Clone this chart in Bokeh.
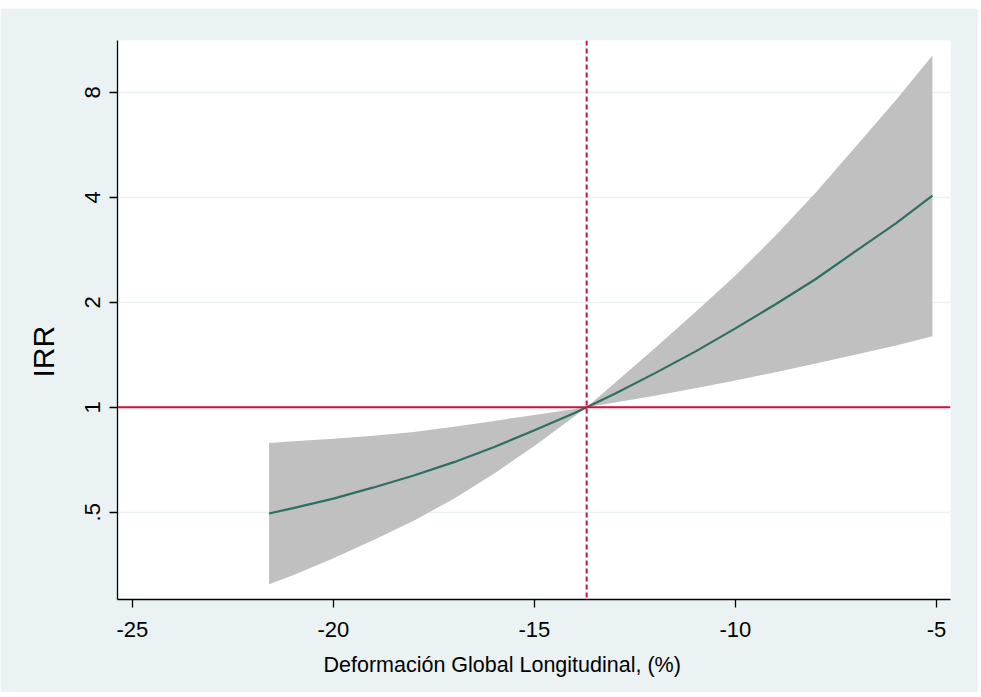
from bokeh.plotting import figure
from bokeh.models import FixedTicker, Span, Title
from bokeh.embed import file_html
from bokeh.resources import INLINE

# ---- data ----
gls = [-21.6, -21, -20, -19, -18, -17, -16, -15, -14, -13.7,
       -13, -12, -11, -10, -9, -8, -7, -6, -5.1]
irr = [0.496, 0.514, 0.547, 0.589, 0.637, 0.696, 0.769, 0.859, 0.963, 1.0,
       1.094, 1.253, 1.444, 1.684, 1.975, 2.333, 2.809, 3.375, 4.044]
ci_upper = [0.790, 0.799, 0.813, 0.829, 0.849, 0.879, 0.914, 0.951, 0.988, 1.0,
            1.174, 1.480, 1.874, 2.386, 3.108, 4.130, 5.603, 7.62, 10.21]
ci_lower = [0.311, 0.330, 0.369, 0.416, 0.473, 0.547, 0.646, 0.774, 0.943, 1.0,
            1.032, 1.079, 1.133, 1.193, 1.261, 1.336, 1.416, 1.505, 1.598]

ref_x = -13.7
ref_y = 1.0

x_ticks = [-25, -20, -15, -10, -5]
x_tick_labels = ["-25", "-20", "-15", "-10", "-5"]
y_ticks = [0.5, 1, 2, 4, 8]
y_tick_labels = [".5", "1", "2", "4", "8"]

x_title = "Deformación Global Longitudinal, (%)"
y_title = "IRR"

FONT = "Liberation Sans"
BG = "#EAF2F3"
RED = "#D0103F"

p = figure(width=978, height=684, output_backend="svg", toolbar_location=None,
           y_axis_type="log", x_range=(-25.37, -4.65), y_range=(0.281, 11.27),
           min_border_left=117, min_border_right=28, min_border_top=32, min_border_bottom=93,
           margin=(8, 3, 5, 0))
p.background_fill_color = "white"
p.border_fill_color = BG
p.outline_line_color = None

p.varea(x=gls, y1=ci_lower, y2=ci_upper, fill_color="#C0C0C0", fill_alpha=1.0)
p.add_layout(Span(location=ref_y, dimension="width", line_color=RED, line_width=2))
p.add_layout(Span(location=ref_x, dimension="height", line_color=RED, line_width=2,
                  line_dash="5 3"))
p.line(gls, irr, line_color="#2E6E63", line_width=2.2)

# axes
p.xaxis.ticker = FixedTicker(ticks=x_ticks)
p.xaxis.major_label_overrides = dict(zip(x_ticks, x_tick_labels))
p.yaxis.ticker = FixedTicker(ticks=y_ticks)
p.yaxis.major_label_overrides = dict(zip(y_ticks, y_tick_labels))
p.yaxis.major_label_orientation = "vertical"

for ax in (p.xaxis[0], p.yaxis[0]):
    ax.axis_line_color = "black"
    ax.axis_line_width = 1.3
    ax.major_tick_line_color = "black"
    ax.major_tick_line_width = 1.3
    ax.major_tick_out = 8
    ax.major_tick_in = 0
    ax.minor_tick_line_color = None
    ax.major_label_text_font = FONT
    ax.major_label_text_font_size = "22px"
    ax.major_label_text_color = "black"
p.xaxis.major_label_standoff = 14
p.yaxis.major_label_standoff = 9

p.xgrid.visible = False
p.ygrid.grid_line_color = BG
p.ygrid.grid_line_width = 1.5

# axis titles as side titles (offset from the frame's left / bottom edge)
p.add_layout(Title(text=x_title, align="left", offset=206, standoff=22,
                   text_font=FONT, text_font_size="21.5px", text_font_style="normal",
                   text_color="black"), "below")
p.add_layout(Title(text=y_title, align="left", offset=222, standoff=46,
                   text_font=FONT, text_font_size="30px", text_font_style="normal",
                   text_color="black"), "left")

open("out.html", "w").write(file_html(p, INLINE))
